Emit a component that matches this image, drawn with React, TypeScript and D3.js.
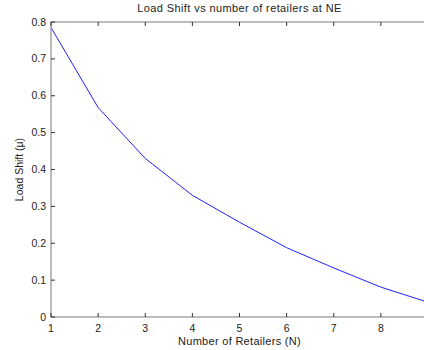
import React from "react";
import * as d3 from "d3";

const retailers = [1, 2, 3, 4, 5, 6, 7, 8, 9];
const loadShift = [0.785, 0.568, 0.43, 0.33, 0.257, 0.188, 0.133, 0.081, 0.04];
const xTicks = [1, 2, 3, 4, 5, 6, 7, 8];
const yTicks = [0, 0.1, 0.2, 0.3, 0.4, 0.5, 0.6, 0.7, 0.8];
const title = "Load Shift vs number of retailers at NE";
const xLabel = "Number of Retailers (N)";
const yLabel = "Load Shift (\u03bc)";

const W = 424;
const H = 350;
const left = 51;
const right = 428;
const top = 22;
const bottom = 317;

export default function App() {
  const x = d3.scaleLinear().domain([1, 9]).range([left, right]);
  const y = d3.scaleLinear().domain([0, 0.8]).range([bottom, top]);
  const line = d3
    .line<number>()
    .x((_, i) => x(retailers[i]))
    .y((d) => y(d));
  const font = "'Liberation Sans', Arial, sans-serif";
  const tl = 4;
  return (
    <div style={{ position: "fixed", left: 0, top: 0, width: W, height: H, overflow: "hidden", background: "#fff" }}>
      <svg width={W} height={H} style={{ display: "block" }} fontFamily={font}>
        <rect x={0} y={0} width={W} height={H} fill="#fff" />
        <path d={line(loadShift) || ""} fill="none" stroke="#2020ff" strokeWidth={1} />
        {/* box */}
        <rect x={left} y={top} width={right - left} height={bottom - top} fill="none" stroke="#999" strokeWidth={1.3} />
        {/* x ticks */}
        {xTicks.map((t) => (
          <g key={"x" + t}>
            <line x1={x(t)} x2={x(t)} y1={bottom} y2={bottom - tl} stroke="#333" strokeWidth={1} />
            <line x1={x(t)} x2={x(t)} y1={top} y2={top + tl} stroke="#333" strokeWidth={1} />
            <text x={x(t)} y={bottom + 15} fontSize={10.5} textAnchor="middle" fill="#222">
              {t}
            </text>
          </g>
        ))}
        {/* y ticks */}
        {yTicks.map((t) => (
          <g key={"y" + t}>
            <line x1={left} x2={left + tl} y1={y(t)} y2={y(t)} stroke="#333" strokeWidth={1} />
            <line x1={right} x2={right - tl} y1={y(t)} y2={y(t)} stroke="#333" strokeWidth={1} />
            <text x={left - 5} y={y(t) + 3.5} fontSize={10.5} textAnchor="end" fill="#222">
              {d3.format("")(+t.toFixed(1))}
            </text>
          </g>
        ))}
        <text x={(left + right) / 2} y={12} fontSize={11} letterSpacing={0.4} textAnchor="middle" fill="#222">
          {title}
        </text>
        <text x={(left + right) / 2} y={345} fontSize={11} letterSpacing={0.3} textAnchor="middle" fill="#222">
          {xLabel}
        </text>
        <text
          transform={`translate(23,${(top + bottom) / 2}) rotate(-90)`}
          fontSize={10.5}
          textAnchor="middle"
          fill="#222"
        >
          {yLabel}
        </text>
      </svg>
    </div>
  );
}
